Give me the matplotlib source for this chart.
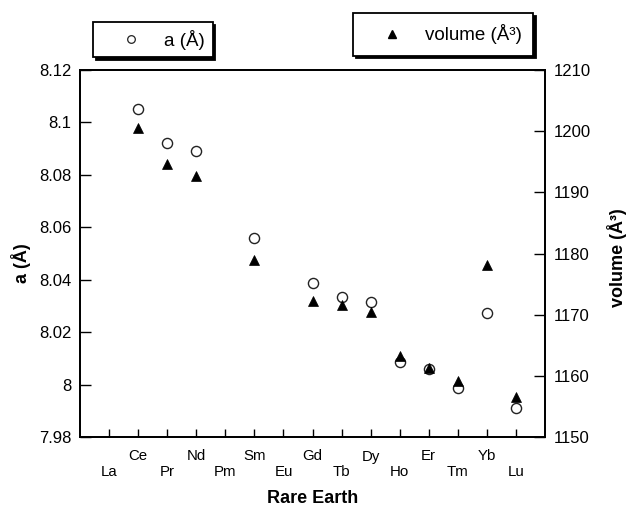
import matplotlib
matplotlib.use("Agg")
import matplotlib.pyplot as plt
from matplotlib.lines import Line2D

plt.rcParams['font.family'] = ['Liberation Sans', 'DejaVu Sans']

elements = ["La", "Ce", "Pr", "Nd", "Pm", "Sm", "Eu", "Gd", "Tb", "Dy", "Ho", "Er", "Tm", "Yb", "Lu"]
a_elems = ["Ce", "Pr", "Nd", "Sm", "Gd", "Tb", "Dy", "Ho", "Er", "Tm", "Yb", "Lu"]
a_vals = [8.105, 8.092, 8.089, 8.056, 8.0386, 8.0335, 8.0316, 8.0085, 8.0059, 7.9988, 8.0274, 7.9912]
vol_vals = [1200.5, 1194.7, 1192.6, 1178.9, 1172.2, 1171.6, 1170.4, 1163.3, 1161.2, 1159.2, 1178.2, 1156.5]
a_ticks = [7.98, 8.0, 8.02, 8.04, 8.06, 8.08, 8.1, 8.12]
a_ticklabels = ["7.98", "8", "8.02", "8.04", "8.06", "8.08", "8.1", "8.12"]
vol_ticks = [1150, 1160, 1170, 1180, 1190, 1200, 1210]

xpos = [elements.index(e) for e in a_elems]

fig = plt.figure(figsize=(6.29, 5.08), dpi=100)
ax = fig.add_axes([80/629, 1-437/508, 465/629, 367/508])
ax2 = ax.twinx()

ax.plot(xpos, a_vals, linestyle='none', marker='o', ms=7.3, mfc='white',
        mec='#222222', mew=1.0, zorder=3)
ax2.plot(xpos, vol_vals, linestyle='none', marker='^', ms=7.2, mfc='black',
         mec='black', mew=0.5, zorder=4)

ax.set_xlim(-1, 15)
ax.set_ylim(7.98, 8.12)
ax2.set_ylim(1150, 1210)

ax.set_yticks(a_ticks)
ax.set_yticklabels(a_ticklabels)
ax2.set_yticks(vol_ticks)

labels = []
for i, e in enumerate(elements):
    labels.append("\n" + e if i % 2 == 0 else e)
ax.set_xticks(range(len(elements)))
ax.set_xticklabels(labels, fontsize=10.8, linespacing=1.1)

ax.tick_params(axis='x', direction='in', length=6, width=1, pad=9, top=False)
ax.tick_params(axis='y', direction='in', length=8, width=1, labelsize=12, pad=6)
ax2.tick_params(axis='y', direction='in', length=8, width=1, labelsize=12, pad=6)

for a in (ax, ax2):
    for s in a.spines.values():
        s.set_linewidth(1.3)

ax.set_xlabel("Rare Earth", fontsize=13, fontweight='bold', labelpad=8)
ax.set_ylabel("a (Å)", fontsize=13, fontweight='bold', labelpad=6)
ax.yaxis.label.set_y(0.474)
ax2.set_ylabel("volume (Å³)", fontsize=13, fontweight='bold', labelpad=12)
ax2.yaxis.label.set_y(0.488)

shadow = {'facecolor': 'black', 'edgecolor': 'black', 'alpha': 1}
h1 = Line2D([], [], linestyle='none', marker='o', ms=5.5, mfc='white', mec='#222222', mew=0.9)
h2 = Line2D([], [], linestyle='none', marker='^', ms=5.5, mfc='black', mec='black')

leg1 = fig.legend([h1], ["a (Å)"], loc='upper left', bbox_to_anchor=(93/629, 1-22/508),
                  bbox_transform=fig.transFigure, fontsize=13.5, borderpad=0.4,
                  handlelength=3.3, handletextpad=0.1, fancybox=False, shadow=shadow,
                  framealpha=1, borderaxespad=0)
leg1.get_frame().set_edgecolor('black')
leg1.get_frame().set_linewidth(1.3)

leg2 = fig.legend([h2], ["volume (Å³)"], loc='upper left', bbox_to_anchor=(353/629, 1-13/508),
                  bbox_transform=fig.transFigure, fontsize=13.5, borderpad=0.6,
                  handlelength=3.0, handletextpad=0.25, fancybox=False, shadow=shadow,
                  framealpha=1, borderaxespad=0)
leg2.get_frame().set_edgecolor('black')
leg2.get_frame().set_linewidth(1.3)

fig.savefig("out.png", dpi=100)
